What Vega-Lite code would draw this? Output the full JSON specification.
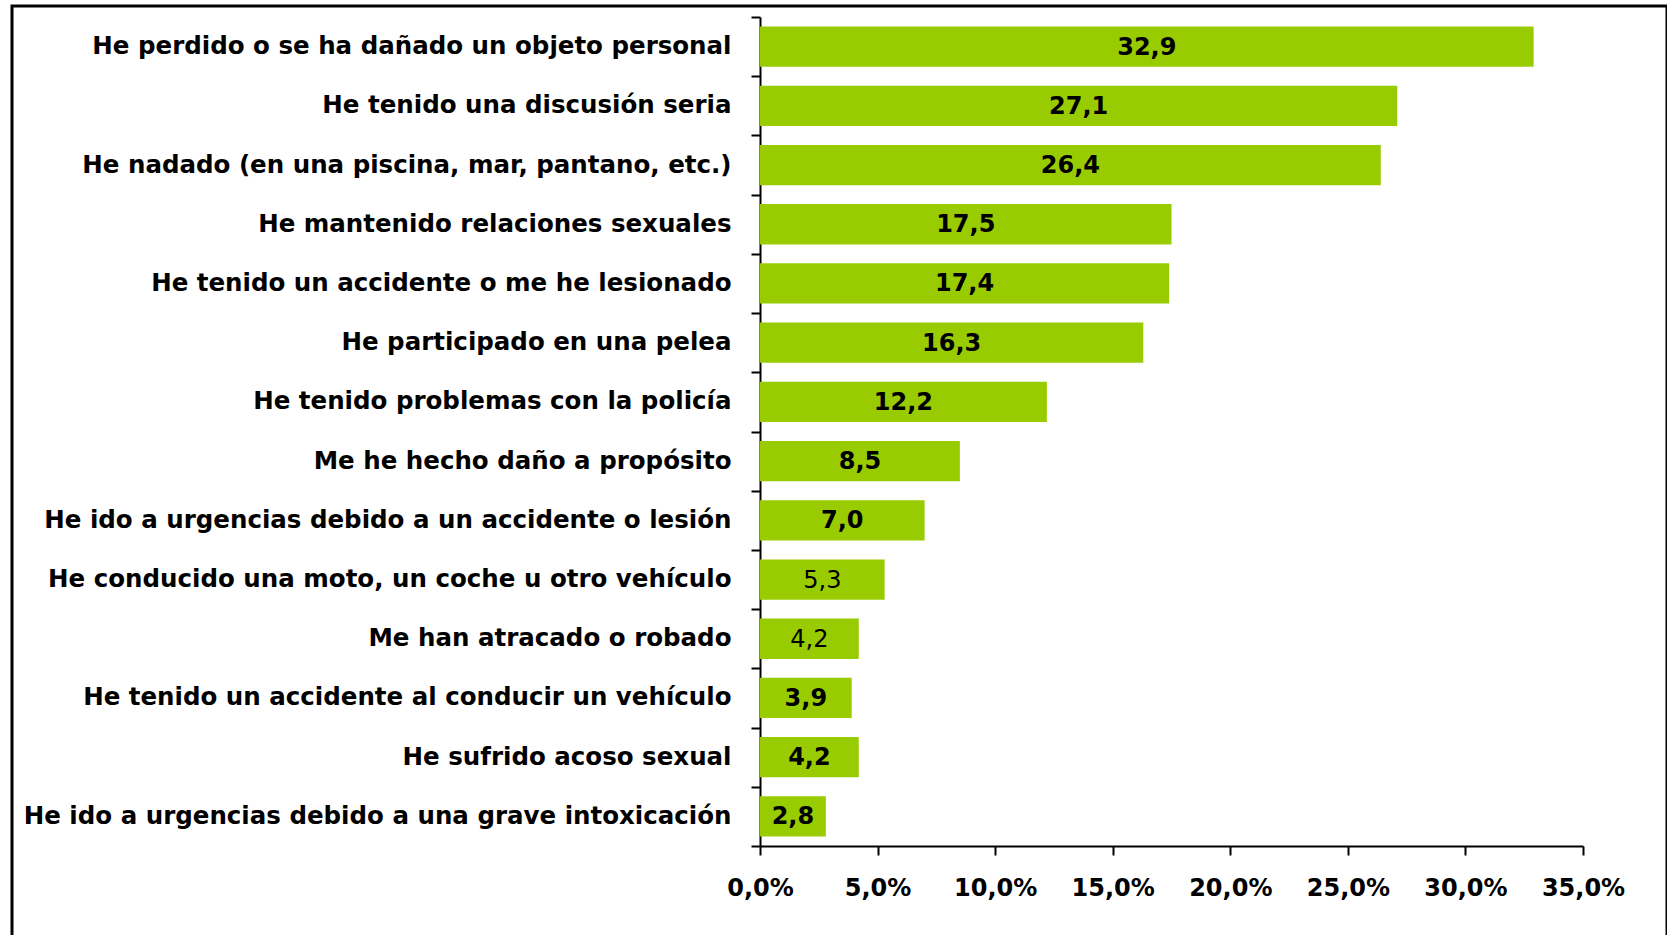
{
  "$schema": "https://vega.github.io/schema/vega-lite/v6.json",
  "width": 1655,
  "height": 932,
  "padding": {"left": 12, "top": 6, "right": 0, "bottom": 0},
  "autosize": {"type": "none"},
  "background": "white",
  "config": {
    "view": {"stroke": "black", "strokeWidth": 3},
    "locale": {"number": {"decimal": ",", "thousands": ".", "grouping": [3], "currency": ["", " €"]}}
  },
  "data": {
    "values": [
      {"cat": "He perdido o se ha dañado un objeto personal", "v": 32.9, "bold": true},
      {"cat": "He tenido una discusión seria", "v": 27.1, "bold": true},
      {"cat": "He nadado (en una piscina, mar, pantano, etc.)", "v": 26.4, "bold": true},
      {"cat": "He mantenido relaciones sexuales", "v": 17.5, "bold": true},
      {"cat": "He tenido un accidente o me he lesionado", "v": 17.4, "bold": true},
      {"cat": "He participado en una pelea", "v": 16.3, "bold": true},
      {"cat": "He tenido problemas con la policía", "v": 12.2, "bold": true},
      {"cat": "Me he hecho daño a propósito", "v": 8.5, "bold": true},
      {"cat": "He ido a urgencias debido a un accidente o lesión", "v": 7.0, "bold": true},
      {"cat": "He conducido una moto, un coche u otro vehículo", "v": 5.3, "bold": false},
      {"cat": "Me han atracado o robado", "v": 4.2, "bold": false},
      {"cat": "He tenido un accidente al conducir un vehículo", "v": 3.9, "bold": true},
      {"cat": "He sufrido acoso sexual", "v": 4.2, "bold": true},
      {"cat": "He ido a urgencias debido a una grave intoxicación", "v": 2.8, "bold": true}
    ]
  },
  "encoding": {
    "y": {
      "field": "cat",
      "type": "nominal",
      "sort": null,
      "title": null,
      "scale": {"range": [11, 840], "paddingInner": 0, "paddingOuter": 0},
      "axis": {
        "orient": "left",
        "offset": -748,
        "domainColor": "black",
        "domainWidth": 2,
        "tickColor": "black",
        "tickWidth": 2,
        "tickSize": 9,
        "tickBand": "extent",
        "labelFont": "DejaVu Sans",
        "labelFontWeight": "bold",
        "labelFontSize": 24.5,
        "labelColor": "black",
        "labelPadding": 20,
        "labelLimit": 900,
        "grid": false
      }
    }
  },
  "layer": [
    {
      "mark": {"type": "bar", "color": "#99CC00", "height": {"band": 0.68}},
      "encoding": {
        "x": {
          "field": "v",
          "type": "quantitative",
          "title": null,
          "scale": {"domain": [0, 35], "range": [748, 1571], "nice": false, "zero": true},
          "axis": {
            "orient": "bottom",
            "offset": -92,
            "values": [0, 5, 10, 15, 20, 25, 30, 35],
            "format": ".1f",
            "labelExpr": "datum.label + '%'",
            "domainColor": "black",
            "domainWidth": 2,
            "tickColor": "black",
            "tickWidth": 2,
            "tickSize": 9,
            "labelFont": "DejaVu Sans",
            "labelFontWeight": "bold",
            "labelFontSize": 24,
            "labelColor": "black",
            "labelPadding": 21,
            "labelFlush": false,
            "grid": false
          }
        }
      }
    },
    {
      "transform": [{"filter": "datum.bold"}],
      "mark": {"type": "text", "font": "DejaVu Sans", "fontWeight": "bold", "fontSize": 24, "color": "black", "align": "center", "baseline": "middle", "dy": 1},
      "encoding": {
        "x": {"field": "v", "type": "quantitative", "stack": "zero", "bandPosition": 0.5},
        "text": {"field": "v", "type": "quantitative", "format": ".1f"}
      }
    },
    {
      "transform": [{"filter": "!datum.bold"}],
      "mark": {"type": "text", "font": "DejaVu Sans", "fontWeight": "normal", "fontSize": 24, "color": "black", "align": "center", "baseline": "middle", "dy": 1},
      "encoding": {
        "x": {"field": "v", "type": "quantitative", "stack": "zero", "bandPosition": 0.5},
        "text": {"field": "v", "type": "quantitative", "format": ".1f"}
      }
    }
  ]
}
